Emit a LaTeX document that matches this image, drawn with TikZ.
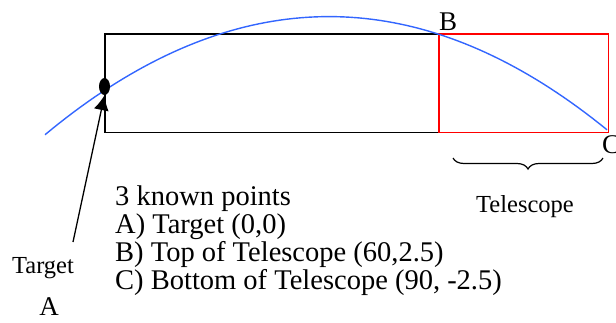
\documentclass[tikz,border=0pt]{standalone}
\usepackage{fontspec}
\setmainfont{Liberation Serif}
\usetikzlibrary{shapes.geometric,decorations.pathreplacing,positioning,arrows.meta}

\tikzset{
    box/.style={line width=1.3pt, minimum width=333pt, minimum height=97pt, inner sep=0pt},
    scopebox/.style={line width=1.4pt, minimum width=168pt, minimum height=97pt, inner sep=0pt},
    ptlabel/.style={font=\fontsize{27}{30}\selectfont, inner sep=0pt},
    small/.style={font=\fontsize{24.5}{28}\selectfont, inner sep=0pt},
    listline/.style={font=\fontsize{28.5}{30}\selectfont, anchor=base west, inner sep=0pt}
}

\begin{document}
\begin{tikzpicture}[x=1pt,y=-1pt]
    \useasboundingbox (0,0) rectangle (616,322);

        % Boxes
        \node[box, anchor=north west] (range) at (105,34) {};
        \node[scopebox, anchor=north west] (scope) at (439,34) {};
        \draw[line width=1.3pt] (range.north west) rectangle (range.south east);
        \draw[line width=1.4pt, color=red] (scope.north west) rectangle (scope.south east);

        % Trajectory (blue)
        \draw[line width=1.4pt, blue!75!cyan!80!white, domain=45:607, samples=80]
            plot (\x, {34 + 0.001468*(\x-220)*(\x-438)});

        % Target marker
        \node[ellipse, fill=black, minimum width=11pt, minimum height=17pt, inner sep=0pt] (target) at (104.5,86.5) {};

        % Point labels
        \node[ptlabel, anchor=base] (B) at (448,30) {B};
        \node[ptlabel, anchor=base west] (C) at (602,153) {C};

        % Arrow to target
        \node[small, anchor=base] (tlabel) at (43,273) {Target};
        \node[ptlabel, anchor=base] (A) at (49,315) {A};
        \coordinate (tail) at (73,242);
        \draw[-{Latex[length=15pt,width=15pt]}, line width=1.3pt] (tail) -- (target.south);

        % Telescope brace
        \coordinate (bl) at (453,158);
        \coordinate (br) at (603,158);
        \draw[decorate, decoration={brace, mirror, amplitude=11pt}, line width=1.2pt] (bl) -- (br);
        \node[small, anchor=base] (tscope) at (525,212) {Telescope};

        % Known points
        \node[listline] (l0) at (115,205) {3 known points};
        \node[listline] (l1) at (115,233) {A) Target (0,0)};
        \node[listline] (l2) at (115,261) {B) Top of Telescope (60,2.5)};
        \node[listline] (l3) at (115,289) {C) Bottom of Telescope (90, -2.5)};

\end{tikzpicture}
\end{document}
